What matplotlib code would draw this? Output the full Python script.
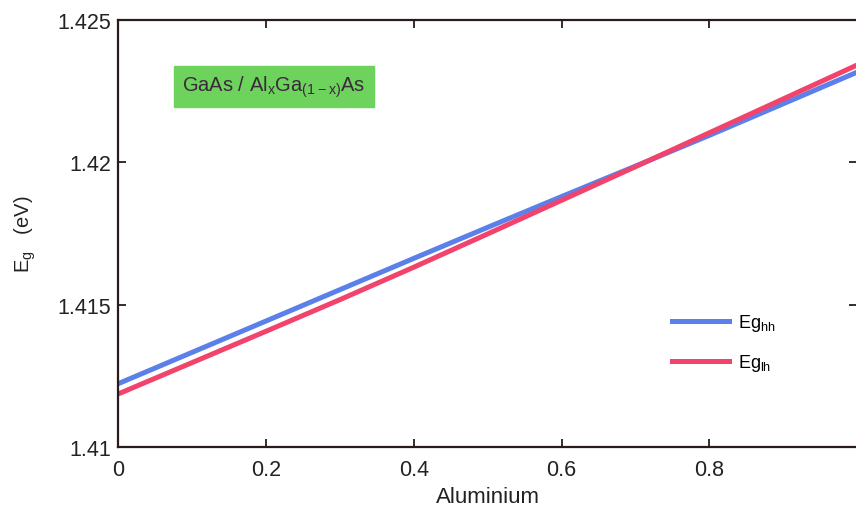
import matplotlib
matplotlib.use("Agg")
import matplotlib.pyplot as plt

plt.rcParams['font.family'] = ['Liberation Sans', 'DejaVu Sans']
plt.rcParams['mathtext.default'] = 'regular'

# aluminium fraction and band gaps (eV)
aluminium = [0.0, 0.1, 0.2, 0.3, 0.4, 0.5, 0.6, 0.7, 0.8, 0.9, 1.0]
eg_hh = [1.41222, 1.41332, 1.41442, 1.41552, 1.41662, 1.41771,
         1.41879, 1.41986, 1.42094, 1.42205, 1.42316]
eg_lh = [1.41186, 1.41296, 1.41406, 1.41517, 1.41631, 1.41748,
         1.41866, 1.41984, 1.42103, 1.42222, 1.42341]

x_ticks = [0, 0.2, 0.4, 0.6, 0.8]
x_ticklabels = ['0', '0.2', '0.4', '0.6', '0.8']
y_ticks = [1.41, 1.415, 1.42, 1.425]
y_ticklabels = ['1.41', '1.415', '1.42', '1.425']

fig = plt.figure(figsize=(8.56, 5.10), dpi=100)
ax = fig.add_axes([0.1379, 0.1216, 0.8635, 0.8378])

ax.plot(aluminium, eg_hh, color='#5b80ea', lw=3.6, label='Eg$_{hh}$')
ax.plot(aluminium, eg_lh, color='#f2436c', lw=3.6, label='Eg$_{lh}$')

ax.set_xlim(0, 1)
ax.set_ylim(1.41, 1.425)
ax.set_xticks(x_ticks)
ax.set_xticklabels(x_ticklabels)
ax.set_yticks(y_ticks)
ax.set_yticklabels(y_ticklabels)

ax.tick_params(direction='in', top=True, right=True, length=6, width=1.3,
               color='#2a1a1a', labelsize=15.5, labelcolor='#222222')
ax.tick_params(axis='y', pad=5)
ax.tick_params(axis='x', pad=9)
for sp in ax.spines.values():
    sp.set_linewidth(1.6)
    sp.set_color('#2a1a1a')

ax.set_xlabel('Aluminium', fontsize=16, color='#222222', labelpad=4)
ax.set_ylabel('E$_g$   (eV)', fontsize=14.5, color='#222222', labelpad=14)

ax.text(0.087, 1.42265, 'GaAs / Al$_x$Ga$_{(1-x)}$As', fontsize=14.5,
        color='#3a2a3a', va='center', ha='left',
        bbox=dict(boxstyle='square,pad=0.4', fc='#6dd35c', ec='#6dd35c'))

ax.legend(loc='center left', bbox_to_anchor=(0.727, 0.244), frameon=False,
          fontsize=13, handlelength=3.2, handletextpad=0.5, labelspacing=1.05)

fig.savefig('out.png', dpi=100)
